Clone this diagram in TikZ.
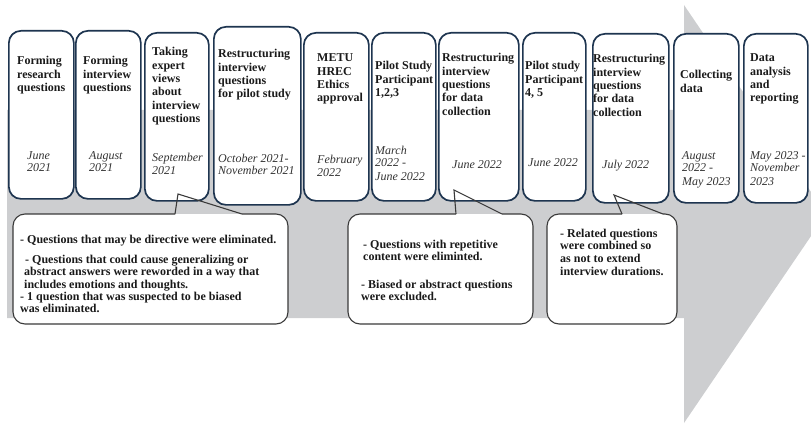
\documentclass[tikz,border=0pt]{standalone}
\usepackage{fontspec}
\setmainfont{Liberation Serif}
\definecolor{band}{HTML}{CDCED0}
\definecolor{frame}{HTML}{1E3550}
\definecolor{ink}{HTML}{1A1A1A}
\definecolor{datecol}{HTML}{333333}
\definecolor{callline}{HTML}{3A3A3A}
% stack of left-aligned lines whose baseline is the first line
\newcommand{\stacked}[1]{\begin{tabular}[t]{@{}l@{}}#1\end{tabular}}
\tikzset{
  stage/.style={draw=frame, line width=1.7pt, fill=white, rounded corners=12pt,
    inner sep=0pt, anchor=north west},
  ttl/.style={anchor=base west, inner sep=0pt, text=ink,
    font=\fontsize{12}{13.3}\selectfont\bfseries},
  dat/.style={anchor=base west, inner sep=0pt, text=datecol,
    font=\fontsize{12}{13}\selectfont\itshape},
  note/.style={anchor=base west, inner sep=0pt, text=ink,
    font=\fontsize{12}{12.8}\selectfont\bfseries},
  bubble/.style={draw=callline, line width=1.1pt, rounded corners=12pt},
  tail/.style={draw=callline, line width=1.1pt, line join=miter},
}
\begin{document}
\begin{tikzpicture}[x=1pt,y=-1pt]
\useasboundingbox (0,0) rectangle (811,425);
\clip (0,0) rectangle (811,425);

% timeline arrow in the background
\fill[band] (7,110) -- (684,110) -- (684,5) -- (826,214) -- (684,423)
  -- (684,318) -- (7,318) -- cycle;

% stage boxes
\node[stage, minimum width=65pt, minimum height=168pt] (b1) at (8,30) {};
\node[stage, minimum width=65pt, minimum height=168pt] (b2) at (75,30) {};
\node[stage, minimum width=64pt, minimum height=168pt] (b3) at (144,32) {};
\node[stage, minimum width=87pt, minimum height=178pt] (b4) at (213,26) {};
\node[stage, minimum width=65pt, minimum height=168pt] (b5) at (303,32) {};
\node[stage, minimum width=64pt, minimum height=168pt] (b6) at (371,32) {};
\node[stage, minimum width=80pt, minimum height=168pt] (b7) at (438,32) {};
\node[stage, minimum width=63pt, minimum height=168pt] (b8) at (522,32) {};
\node[stage, minimum width=76pt, minimum height=169pt] (b9) at (592,33) {};
\node[stage, minimum width=65pt, minimum height=169pt] (b10) at (673,33) {};
\node[stage, minimum width=64pt, minimum height=169pt] (b11) at (743,33) {};

% stage titles
\node[ttl] (t1) at (17,65) {\stacked{Forming\\research\\questions}};
\node[ttl] (t2) at (83,65) {\stacked{Forming\\interview\\questions}};
\node[ttl] (t3) at (152,56) {\stacked{Taking\\expert\\views\\about\\interview\\questions}};
\node[ttl] (t4) at (218,58) {\stacked{Restructuring\\interview\\questions\\for pilot study}};
\node[ttl] (t5) at (317,62) {\stacked{METU\\HREC\\Ethics\\approval}};
\node[ttl] (t6) at (375,70) {\stacked{Pilot Study\\Participant\\1,2,3}};
\node[ttl] (t7) at (442,62) {\stacked{Restructuring\\interview\\questions\\for data\\collection}};
\node[ttl] (t8) at (525,70) {\stacked{Pilot study\\Participant\\4, 5}};
\node[ttl] (t9) at (593,63) {\stacked{Restructuring\\interview\\questions\\for data\\collection}};
\node[ttl] (t10) at (680,79) {\stacked{Collecting\\data}};
\node[ttl] (t11) at (750,62) {\stacked{Data\\analysis\\and\\reporting}};

% stage dates
\node[dat] (d1) at (27,159) {\stacked{June\\2021}};
\node[dat] (d2) at (89,159) {\stacked{August\\2021}};
\node[dat] (d3) at (152,161) {\stacked{September\\2021}};
\node[dat] (d4) at (218,162) {\stacked{October 2021-\\November 2021}};
\node[dat] (d5) at (317,164) {\stacked{February\\2022}};
\node[dat] (d6) at (375,154) {\stacked{March\\2022 -\\June 2022}};
\node[dat] (d7) at (452,168) {June 2022};
\node[dat] (d8) at (528,167) {June 2022};
\node[dat] (d9) at (602,168) {July 2022};
\node[dat] (d10) at (682,159) {\stacked{August\\2022 -\\May 2023}};
\node[dat] (d11) at (750,159) {\stacked{May 2023 -\\November\\2023}};

% callout bubbles: white body, outline open where the tail joins,
% tail drawn as an outline only
\fill[white, rounded corners=12pt] (13,214) rectangle (288,324);
\draw[bubble] (242,214) -- (288,214) -- (288,324) -- (13,324) -- (13,214) -- (175,214);
\draw[tail] (175,214) -- (178,194) -- (242,214);

\fill[white, rounded corners=12pt] (348,214) rectangle (533,324);
\draw[bubble] (502,214) -- (533,214) -- (533,324) -- (348,324) -- (348,214) -- (456,214);
\draw[tail] (456,214) -- (454,190) -- (502,214);

\fill[white, rounded corners=12pt] (547,214) rectangle (677,324);
\draw[bubble] (663,214) -- (677,214) -- (677,324) -- (547,324) -- (547,214) -- (622,214);
\draw[tail] (622,214) -- (614,195) -- (663,214);

% callout notes
\node[note] (n1) at (20,243) {- Questions that may be directive were eliminated.};
\node[note] (n2) at (24,263) {\stacked{\hspace{1pt}- Questions that could cause generalizing or\\abstract answers were reworded in a way that\\includes emotions and thoughts.}};
\node[note] (n3) at (20,300) {\stacked{- 1 question that was suspected to be biased\\was eliminated.}};
\node[note] (n4) at (363,248) {\stacked{- Questions with repetitive\\content were eliminted.}};
\node[note] (n5) at (361,288) {\stacked{- Biased or abstract questions\\were excluded.}};
\node[note] (n6) at (560,237) {\stacked{- Related questions\\were combined so\\as not to extend\\interview durations.}};
\end{tikzpicture}
\end{document}
